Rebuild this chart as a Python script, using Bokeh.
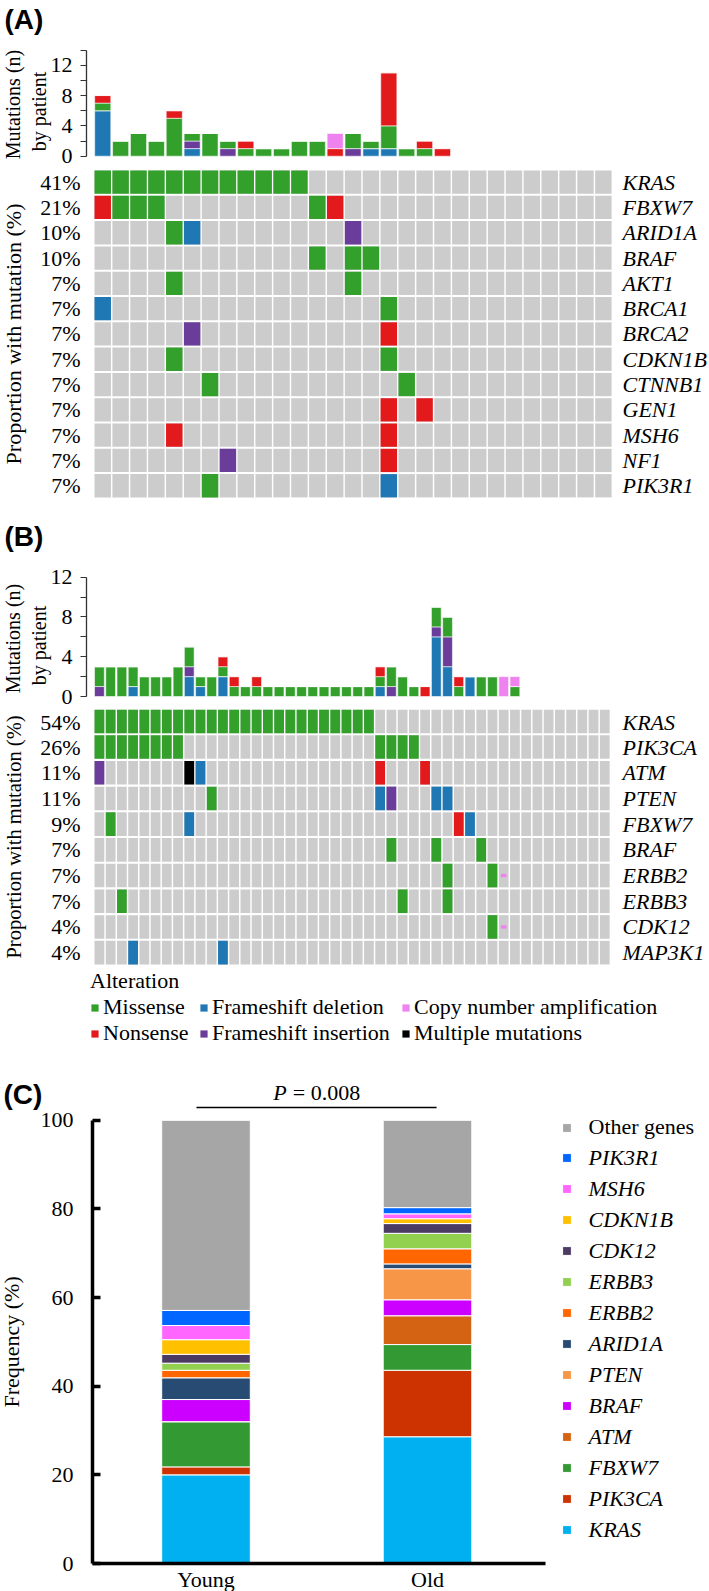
import math
from bokeh.plotting import figure
from bokeh.models import (Range1d, FixedTicker, LinearAxis, Label, Legend,
                          LegendItem, ColumnDataSource)
from bokeh.layouts import column
from bokeh.embed import file_html
from bokeh.resources import INLINE
from bokeh.core.properties import value

# ---------------------------------------------------------------- data
alt_codes = ["D", "I", "M", "N", "C", "X"]
alt_labels = ["Frameshift deletion", "Frameshift insertion", "Missense",
              "Nonsense", "Copy number amplification", "Multiple mutations"]
alt_colors = ["#1F78B4", "#6A3D9A", "#33A02C", "#E31A1C", "#EE82EE", "#000000"]

# Panel A (29 patients)
a_genes = ["KRAS", "FBXW7", "ARID1A", "BRAF", "AKT1", "BRCA1", "BRCA2",
           "CDKN1B", "CTNNB1", "GEN1", "MSH6", "NF1", "PIK3R1"]
a_pct = ["41%", "21%", "10%", "10%", "7%", "7%", "7%", "7%", "7%", "7%",
         "7%", "7%", "7%"]
a_grid = [
    "M" * 12 + "." * 17,
    "NMMM" + "." * 8 + "MN" + "." * 15,
    "." * 4 + "MD" + "." * 8 + "I" + "." * 14,
    "." * 12 + "M.MM" + "." * 13,
    "." * 4 + "M" + "." * 9 + "M" + "." * 14,
    "D" + "." * 15 + "M" + "." * 12,
    "." * 5 + "I" + "." * 10 + "N" + "." * 12,
    "." * 4 + "M" + "." * 11 + "M" + "." * 12,
    "." * 6 + "M" + "." * 10 + "M" + "." * 11,
    "." * 16 + "N.N" + "." * 10,
    "." * 4 + "N" + "." * 11 + "N" + "." * 12,
    "." * 7 + "I" + "." * 8 + "N" + "." * 12,
    "." * 6 + "M" + "." * 9 + "D" + "." * 12,
]
a_del = [6, 0, 0, 0, 0, 1, 0, 0, 0, 0, 0, 0, 0, 0, 0, 1, 1, 0, 0, 0, 0, 0, 0, 0, 0, 0, 0, 0, 0]
a_ins = [0, 0, 0, 0, 0, 1, 0, 1, 0, 0, 0, 0, 0, 0, 1, 0, 0, 0, 0, 0, 0, 0, 0, 0, 0, 0, 0, 0, 0]
a_mis = [1, 2, 3, 2, 5, 1, 3, 1, 1, 1, 1, 2, 2, 0, 2, 1, 3, 1, 1, 0, 0, 0, 0, 0, 0, 0, 0, 0, 0]
a_non = [1, 0, 0, 0, 1, 0, 0, 0, 1, 0, 0, 0, 0, 1, 0, 0, 7, 0, 1, 1, 0, 0, 0, 0, 0, 0, 0, 0, 0]
a_cna = [0, 0, 0, 0, 0, 0, 0, 0, 0, 0, 0, 0, 0, 2, 0, 0, 0, 0, 0, 0, 0, 0, 0, 0, 0, 0, 0, 0, 0]

# Panel B (46 patients); "c" = small amplification marker
b_genes = ["KRAS", "PIK3CA", "ATM", "PTEN", "FBXW7", "BRAF", "ERBB2",
           "ERBB3", "CDK12", "MAP3K1"]
b_pct = ["54%", "26%", "11%", "11%", "9%", "7%", "7%", "7%", "4%", "4%"]
b_grid = [
    "M" * 25 + "." * 21,
    "M" * 8 + "." * 17 + "M" * 4 + "." * 17,
    "I" + "." * 7 + "XD" + "." * 15 + "N" + "." * 3 + "N" + "." * 16,
    "." * 10 + "M" + "." * 14 + "DI" + "." * 3 + "DD" + "." * 14,
    ".M" + "." * 6 + "D" + "." * 23 + "ND" + "." * 12,
    "." * 26 + "M" + "." * 3 + "M" + "." * 3 + "M" + "." * 11,
    "." * 31 + "M" + "." * 3 + "Mc" + "." * 9,
    "." * 2 + "M" + "." * 24 + "M" + "." * 3 + "M" + "." * 14,
    "." * 35 + "Mc" + "." * 9,
    "." * 3 + "D" + "." * 7 + "D" + "." * 34,
]
b_del = [0, 0, 0, 1, 0, 0, 0, 0, 2, 1, 0, 2, 0, 0, 0, 0, 0, 0, 0, 0, 0, 0, 0,
         0, 0, 1, 0, 0, 0, 0, 6, 3, 0, 2, 0, 0, 0, 0, 0, 0, 0, 0, 0, 0, 0, 0]
b_ins = [1, 0, 0, 0, 0, 0, 0, 0, 1, 0, 0, 0, 0, 0, 0, 0, 0, 0, 0, 0, 0, 0, 0,
         0, 0, 0, 1, 0, 0, 0, 1, 3, 0, 0, 0, 0, 0, 0, 0, 0, 0, 0, 0, 0, 0, 0]
b_mis = [2, 3, 3, 2, 2, 2, 2, 3, 2, 1, 2, 1, 1, 1, 1, 1, 1, 1, 1, 1, 1, 1, 1,
         1, 1, 1, 2, 2, 1, 0, 2, 2, 1, 0, 2, 2, 0, 1, 0, 0, 0, 0, 0, 0, 0, 0]
b_non = [0, 0, 0, 0, 0, 0, 0, 0, 0, 0, 0, 1, 1, 0, 1, 0, 0, 0, 0, 0, 0, 0, 0,
         0, 0, 1, 0, 0, 0, 1, 0, 0, 1, 0, 0, 0, 0, 0, 0, 0, 0, 0, 0, 0, 0, 0]
b_cna = [0, 0, 0, 0, 0, 0, 0, 0, 0, 0, 0, 0, 0, 0, 0, 0, 0, 0, 0, 0, 0, 0, 0,
         0, 0, 0, 0, 0, 0, 0, 0, 0, 0, 0, 0, 0, 2, 1, 0, 0, 0, 0, 0, 0, 0, 0]

# Panel C (stack order bottom -> top)
c_groups = ["Young", "Old"]
c_genes = ["KRAS", "PIK3CA", "FBXW7", "ATM", "BRAF", "PTEN", "ARID1A", "ERBB2",
           "ERBB3", "CDK12", "CDKN1B", "MSH6", "PIK3R1", "Other genes"]
c_young = [20.0, 1.8, 10.2, 0.0, 5.0, 0.0, 4.9, 1.7, 1.6, 2.0, 3.3, 3.2, 3.4, 42.9]
c_old = [28.6, 15.0, 5.8, 6.5, 3.6, 7.0, 1.1, 3.4, 3.5, 2.2, 1.1, 1.1, 1.4, 19.7]
c_colors = ["#00B0F0", "#CC3300", "#339933", "#D46313", "#CC00FF", "#F79646",
            "#284B73", "#FF6600", "#92D050", "#4B3B63", "#FFC000", "#FF66FF",
            "#0066FF", "#A6A6A6"]
c_pvalue = "0.008"

# ---------------------------------------------------------------- layout
SERIF = "Liberation Serif"
SANS = "Liberation Sans"
W = 709
REF_L, REF_R = 0, 709          # page x covered by the figures
FRAME_L, FRAME_R = 86, 612     # axis positions of panels A and B
COLOR = dict(zip(alt_codes, alt_colors))
GRAY = "#CCCCCC"


def make_fig(top, bot, x0, sx, y0, sy, **kw):
    """Figure whose frame fills the whole canvas; x0/y0 = pixel of data 0."""
    p = figure(width=W, height=bot - top,
               x_range=Range1d((REF_L - x0) / sx, (REF_R - x0) / sx),
               y_range=Range1d((y0 - bot) / sy, (y0 - top) / sy),
               toolbar_location=None, output_backend="svg", min_border=0,
               outline_line_color=None, **kw)
    p.grid.visible = False
    return p


def label(p, bot, rx, ry, text, size, angle=0.0, align="left",
          baseline="middle", font=SERIF, style="normal"):
    p.add_layout(Label(x=rx - REF_L, y=bot - ry, x_units="screen",
                       y_units="screen", text=text, text_font=font,
                       text_font_size=f"{size}px", text_font_style=style,
                       angle=angle, text_align=align, text_baseline=baseline,
                       text_color="black"))


def bars_fig(top, bot, zero_px, unit, left_edge, pitch, wfrac, ymax, counts,
             lab_y):
    n = len(counts[0])
    x0 = left_edge + pitch / 2
    p = make_fig(top, bot, x0, pitch, zero_px, unit, x_axis_type=None)
    data = dict(x=list(range(n)))
    keys = alt_codes[:5]
    for k, c in zip(keys, counts):
        data[k] = c
    p.vbar_stack(keys, x="x", width=wfrac, source=ColumnDataSource(data),
                 fill_color=[COLOR[k] for k in keys], line_color="white",
                 line_width=0.8, line_alpha=0.7)
    ax = p.yaxis[0]
    ax.fixed_location = (FRAME_L - x0) / pitch
    ax.ticker = FixedTicker(ticks=list(range(0, ymax + 1, 4)),
                            minor_ticks=list(range(2, ymax + 1, 4)))
    ax.bounds = (0, ymax)
    ax.axis_line_color = "#333333"
    ax.axis_line_width = 1.3
    ax.major_tick_line_color = "#333333"
    ax.minor_tick_line_color = "#333333"
    ax.major_tick_out = 6
    ax.major_tick_in = 0
    ax.minor_tick_out = 6
    ax.minor_tick_in = 0
    ax.major_label_standoff = 8
    ax.major_label_text_font = SERIF
    ax.major_label_text_font_size = "22px"
    ax.major_label_text_color = "black"
    label(p, bot, 12, lab_y, "Mutations (n)", 20, angle=math.pi / 2,
          align="center")
    label(p, bot, 38, lab_y + 7, "by patient", 20, angle=math.pi / 2,
          align="center")
    return p


def grid_fig(top, bot, row_top, row_pitch, left_edge, pitch, wfrac, hfrac,
             genes, pct, rows, ylab_size):
    n = len(rows[0])
    assert all(len(r) == n for r in rows)
    x0 = left_edge + pitch / 2
    p = make_fig(top, bot, x0, pitch, row_top + row_pitch / 2, row_pitch,
                 x_axis_type=None)
    gx, gy, mx, my, mc, sx, sy = [], [], [], [], [], [], []
    for r, s in enumerate(rows):
        for c, ch in enumerate(s):
            gx.append(c)
            gy.append(-r)
            if ch in COLOR:
                mx.append(c)
                my.append(-r)
                mc.append(COLOR[ch])
            elif ch == "c":
                sx.append(c)
                sy.append(-r)
    p.rect(x=gx, y=gy, width=wfrac, height=hfrac, fill_color=GRAY,
           line_color=None)
    p.rect(x=mx, y=my, width=wfrac, height=hfrac, fill_color=mc,
           line_color=None)
    if sx:
        p.rect(x=sx, y=sy, width=0.5, height=0.13, fill_color=COLOR["C"],
               line_color=None)
    ticks = [-r for r in range(len(genes))]
    common = dict(axis_line_color=None, major_tick_line_color=None,
                  minor_tick_line_color=None, major_tick_out=0,
                  minor_tick_out=0, major_tick_in=0, minor_tick_in=0,
                  major_label_text_font=SERIF, major_label_text_color="black",
                  major_label_text_font_size="22px")
    ax = p.yaxis[0]
    ax.ticker = FixedTicker(ticks=ticks)
    ax.major_label_overrides = {-r: pct[r] for r in range(len(genes))}
    ax.fixed_location = (FRAME_L - x0) / pitch
    ax.update(major_label_standoff=6, **common)
    rax = LinearAxis(ticker=FixedTicker(ticks=ticks),
                     major_label_overrides={-r: genes[r] for r in range(len(genes))},
                     fixed_location=(FRAME_R - x0) / pitch,
                     major_label_standoff=10,
                     major_label_text_font_style="italic", **common)
    p.add_layout(rax, "right")
    grid_mid = row_top + row_pitch * len(genes) / 2
    label(p, bot, 13, grid_mid, "Proportion with mutation (%)", ylab_size,
          angle=math.pi / 2, align="center")
    return p


# ---- panel A
f1 = bars_fig(0, 169, 155.7, 7.583, 93.3, 17.88, 0.9, 14,
              [a_del, a_ins, a_mis, a_non, a_cna], 104)
label(f1, 169, 4, 3, "(A)", 28, baseline="top", font=SANS, style="bold")
f2 = grid_fig(169, 500, 169, 25.3, 93.3, 17.88, 0.92, 0.92, a_genes, a_pct,
              a_grid, 22)

# ---- panel B
f3 = bars_fig(500, 709, 696, 9.942, 93.3, 11.23, 0.87, 12,
              [b_del, b_ins, b_mis, b_non, b_cna], 638)
label(f3, 709, 4, 520, "(B)", 28, baseline="top", font=SANS, style="bold")
f4 = grid_fig(709, 966, 708, 25.7, 93.3, 11.23, 0.87, 0.92, b_genes, b_pct,
              b_grid, 20.5)

# ---- legend of alteration types
L_TOP, L_BOT = 966, 1050
f5 = figure(width=W, height=L_BOT - L_TOP, x_range=Range1d(0, 1),
            y_range=Range1d(0, 1), x_axis_type=None, y_axis_type=None,
            toolbar_location=None, output_backend="svg", min_border=0,
            outline_line_color=None)
nan = float("nan")
dummy = {}
for code in alt_codes:
    dummy[code] = f5.rect(x=[nan], y=[nan], width=1, height=1,
                          fill_color=COLOR[code], line_color=None)
label(f5, L_BOT, 89.5, 980, "Alteration", 22)
names = dict(zip(alt_codes, alt_labels))
for codes, gx in [(["M", "N"], 90), (["D", "I"], 199), (["C", "X"], 401)]:
    lg = Legend(items=[LegendItem(label=value(names[c]), renderers=[dummy[c]])
                       for c in codes],
                location=(gx - REF_L, 4), orientation="vertical",
                glyph_width=9, glyph_height=9, label_standoff=4, spacing=0,
                padding=0, margin=0, label_height=23,
                border_line_color=None, background_fill_alpha=0,
                label_text_font=SERIF, label_text_font_size="22px",
                label_text_color="black")
    f5.add_layout(lg)

# ---- panel C
C_TOP, C_BOT = 1050, 1591
C_AXIS_X, C_ZERO, C_UNIT = 92, 1563, 4.432
c_x0, c_dx = 205.5, 221.5
f6 = make_fig(C_TOP, C_BOT, c_x0, c_dx, C_ZERO, C_UNIT)
c_keys = [f"g{i}" for i in range(len(c_genes))]
cdata = dict(x=list(range(len(c_groups))))
for k, yv, ov in zip(c_keys, c_young, c_old):
    cdata[k] = [yv, ov]
c_rends = f6.vbar_stack(c_keys, x="x", width=0.4,
                        source=ColumnDataSource(cdata), fill_color=c_colors,
                        line_color="white", line_width=1)
yax = f6.yaxis[0]
xax = f6.xaxis[0]
yax.ticker = FixedTicker(ticks=[0, 20, 40, 60, 80, 100])
yax.bounds = (0, 100)
yax.fixed_location = (C_AXIS_X - c_x0) / c_dx
xax.ticker = FixedTicker(ticks=list(range(len(c_groups))))
xax.major_label_overrides = {i: g for i, g in enumerate(c_groups)}
xax.bounds = ((C_AXIS_X - c_x0) / c_dx, (545 - c_x0) / c_dx)
xax.fixed_location = 0
for a in (xax, yax):
    a.axis_line_color = "black"
    a.axis_line_width = 3.5
    a.major_tick_line_color = "black"
    a.major_tick_line_width = 3.5
    a.minor_tick_line_color = None
    a.major_tick_out = 0
    a.minor_tick_out = 0
    a.major_label_text_font = SERIF
    a.major_label_text_color = "black"
    a.major_label_text_font_size = "22px"
yax.major_tick_in = 8
yax.major_label_standoff = 19
xax.major_tick_in = 0
xax.major_label_standoff = 3

# significance bracket and p value
bracket_y = (C_ZERO - 1107) / C_UNIT
f6.line(x=[0 - 0.043, 1 + 0.041], y=[bracket_y, bracket_y],
        line_color="black", line_width=1.5)
p_y = (C_ZERO - 1092) / C_UNIT
f6.add_layout(Label(x=0.5, y=p_y, x_offset=-30, text="P", text_align="right",
                    text_baseline="middle", text_font=SERIF,
                    text_font_style="italic", text_font_size="22px",
                    text_color="black"))
f6.add_layout(Label(x=0.5, y=p_y, x_offset=-24, text="= " + c_pvalue,
                    text_align="left", text_baseline="middle", text_font=SERIF,
                    text_font_size="22px", text_color="black"))
label(f6, C_BOT, 3, 1078, "(C)", 28, baseline="top", font=SANS,
      style="bold")
label(f6, C_BOT, 11, C_ZERO - 50 * C_UNIT, "Frequency (%)", 22,
      angle=math.pi / 2, align="center")

leg_common = dict(orientation="vertical", glyph_width=11, glyph_height=11,
                  label_standoff=17, spacing=0, padding=0, margin=0,
                  label_height=31, border_line_color=None,
                  background_fill_alpha=0, label_text_font=SERIF,
                  label_text_font_size="22px", label_text_color="black")
other = Legend(items=[LegendItem(label=value(c_genes[-1]), renderers=[c_rends[-1]])],
               location=(560.5 - REF_L, C_BOT - 1142.5), **leg_common)
genes_leg = Legend(items=[LegendItem(label=value(g), renderers=[r])
                          for g, r in reversed(list(zip(c_genes[:-1], c_rends[:-1])))],
                   location=(560.5 - REF_L, C_BOT - 1545.3),
                   label_text_font_style="italic", **leg_common)
f6.add_layout(other)
f6.add_layout(genes_leg)

layout = column(f1, f2, f3, f4, f5, f6, spacing=0)
open("out.html", "w").write(file_html(layout, INLINE, title="Mutations"))
